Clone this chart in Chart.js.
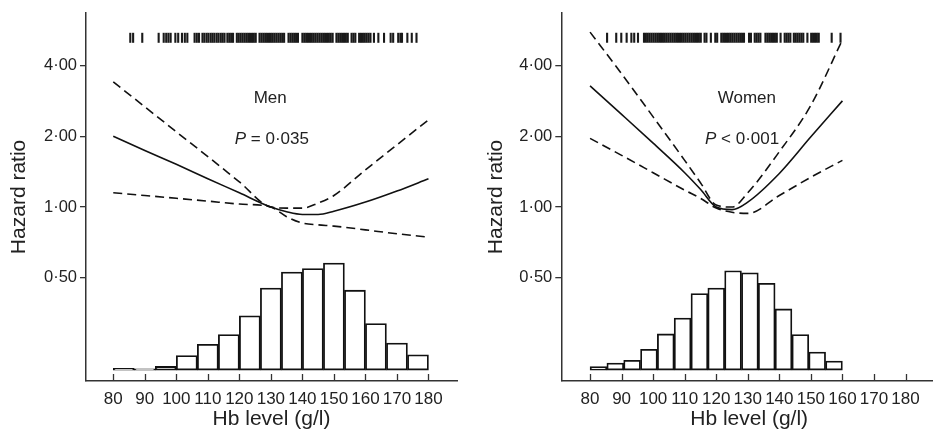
<!DOCTYPE html>
<html>
<head>
<meta charset="utf-8">
<script src="https://cdn.jsdelivr.net/npm/chart.js@4.4.0/dist/chart.umd.min.js"></script>
<style>
  html, body { margin: 0; padding: 0; background: #fff; overflow: hidden; width: 933px; height: 442px; }
  #men { position: absolute; left: 0; top: 0; }
  #women { position: absolute; left: 463px; top: 0; }
</style>
</head>
<body>
<canvas id="men" width="466" height="442"></canvas>
<canvas id="women" width="490" height="442"></canvas>
<script>
// axis ticks
const hrTicks = [0.5, 1, 2, 4];
const hbTicks = [80, 90, 100, 110, 120, 130, 140, 150, 160, 170, 180];

// Men: spline hazard ratio with 95% CI
const menHb    = [80, 90, 100, 110, 120, 130, 135, 140, 145, 150, 160, 170, 180];
const menHR    = [2.0, 1.74, 1.52, 1.32, 1.15, 1.0, 0.955, 0.93, 0.93, 0.96, 1.05, 1.17, 1.32];
const menUpper = [3.41, 2.67, 2.09, 1.64, 1.28, 1.0, 0.99, 0.99, 1.04, 1.12, 1.44, 1.84, 2.35];
const menLower = [1.15, 1.12, 1.09, 1.06, 1.03, 1.0, 0.91, 0.855, 0.84, 0.83, 0.80, 0.77, 0.745];
// Men: histogram of Hb (% of men), bin centres
const menBins = [83.33, 90, 96.67, 103.33, 110, 116.67, 123.33, 130, 136.67, 143.33, 150, 156.67, 163.33, 170, 176.67];
const menPct  = [0.24, 0.18, 0.53, 2.1, 3.7, 5.1, 7.8, 11.8, 14.1, 14.6, 15.4, 11.5, 6.7, 3.9, 2.2];
// Men: rug of observed Hb values
const menRug = [
  85.4, 86.3, 89.2, 94.4, 96.0, 96.8, 97.5, 98.2, 99.7, 100.6, 101.8, 102.7, 103.5, 105.8, 106.5, 107.2,
  108.3, 108.9, 109.6, 110.2, 110.9, 111.5, 112.1, 112.8, 113.4, 114.1, 114.7, 115.3, 116.2, 116.8, 117.4, 118.0,
  119.2, 119.8, 120.4, 121.0, 121.6, 122.2, 122.8, 123.4, 124.0, 124.6, 125.2, 126.4, 127.0, 127.6, 128.2, 128.8,
  129.4, 130.0, 130.6, 131.2, 131.8, 132.4, 133.0, 133.6, 134.2, 135.6, 136.2, 136.8, 137.4, 138.0, 138.6, 140.0,
  140.6, 141.2, 141.8, 142.4, 143.0, 143.6, 144.2, 144.8, 145.4, 146.0, 146.6, 147.2, 147.8, 148.4, 149.0, 149.6,
  150.8, 151.4, 152.0, 152.6, 153.2, 153.8, 154.4, 155.6, 156.2, 156.8, 158.0, 158.6, 159.2, 159.8, 160.4, 161.0,
  161.6, 162.7, 164.1, 165.9, 168.0, 168.8, 170.4, 171.1, 171.6, 173.3, 174.7, 176.2
];

// Women: spline hazard ratio with 95% CI
const womenHb    = [80, 90, 100, 110, 115, 120, 125, 130, 140, 150, 160];
const womenHR    = [3.28, 2.48, 1.87, 1.40, 1.19, 1.0, 0.975, 1.05, 1.39, 1.99, 2.83];
const womenUpper = [5.55, 3.69, 2.42, 1.58, 1.27, 1.02, 1.0, 1.15, 1.72, 2.71, 5.15];
const womenLower = [1.96, 1.66, 1.40, 1.18, 1.09, 0.99, 0.95, 0.94, 1.12, 1.34, 1.58];
// Women: histogram of Hb (% of women), bin centres
const womenBins = [82.67, 88, 93.33, 98.67, 104, 109.33, 114.67, 120, 125.33, 130.67, 136, 141.33, 146.67, 152, 157.33];
const womenPct  = [0.5, 1.0, 1.4, 3.0, 5.2, 7.5, 11.0, 11.8, 14.3, 14.0, 12.5, 8.8, 5.1, 2.6, 1.3];
// Women: rug of observed Hb values
const womenRug = [
  85.4, 88.3, 89.9, 91.6, 93.1, 94.0, 95.2,
  97.1, 97.7, 98.3, 98.9, 99.5, 100.1, 100.7, 101.3, 101.9, 102.5, 103.1, 103.7, 104.3, 104.9, 105.5, 106.1,
  106.7, 107.3, 107.9, 108.5, 109.1, 109.7, 110.3, 110.9, 111.5, 112.1, 112.7, 113.3, 113.9, 114.5, 115.1, 116.3,
  116.9, 118.3, 119.7, 120.3, 121.6, 122.2, 122.8, 123.4, 124.0, 124.6, 125.2, 125.8, 126.4, 127.0, 127.6, 128.2,
  128.8, 130.4, 131.0, 132.2, 132.8, 133.4, 134.0, 135.6, 136.2, 136.8, 137.4, 138.0, 138.6, 139.2, 140.4, 141.7,
  142.3, 142.9, 143.5, 144.6, 145.2, 145.8, 146.4, 147.0, 147.6, 148.9, 150.1, 150.7, 151.3, 151.9, 152.5,
  156.6, 159.4
];

const rugLevel = 5.25;
const FONT = '"Liberation Sans", Arial, sans-serif';
Chart.defaults.font.family = FONT;
Chart.defaults.color = '#222';

// inward x ticks + in-panel labels
const panelDecor = {
  id: 'panelDecor',
  afterDraw(chart, args, opts) {
    const { ctx, scales: { x, y } } = chart;
    ctx.save();
    ctx.strokeStyle = '#333';
    ctx.lineWidth = 1.3;
    x.ticks.forEach(t => {
      const px = Math.round(x.getPixelForValue(t.value)) + 0.5;
      ctx.beginPath();
      ctx.moveTo(px, y.bottom);
      ctx.lineTo(px, y.bottom - 7);
      ctx.stroke();
    });
    ctx.fillStyle = '#222';
    ctx.textBaseline = 'middle';
    ctx.textAlign = 'left';
    ctx.font = '17px ' + FONT;
    const gx = x.getPixelForValue(opts.groupAt[0]), gy = y.getPixelForValue(opts.groupAt[1]);
    ctx.fillText(opts.group, gx - ctx.measureText(opts.group).width / 2, gy);
    const rest = opts.pText;
    ctx.font = 'italic 17px ' + FONT;
    const wp = ctx.measureText('P').width;
    ctx.font = '17px ' + FONT;
    const wr = ctx.measureText(rest).width;
    const px = x.getPixelForValue(opts.pAt[0]) - (wp + wr) / 2, py = y.getPixelForValue(opts.pAt[1]);
    ctx.font = 'italic 17px ' + FONT;
    ctx.fillText('P', px, py);
    ctx.font = '17px ' + FONT;
    ctx.fillText(rest, px + wp, py);
    ctx.restore();
  }
};

function pts(xs, ys) { return xs.map((v, i) => ({ x: v, y: ys[i] })); }

function panel(id, p) {
  const lineBase = { type: 'line', pointRadius: 0, borderColor: '#111', borderWidth: 1.6, cubicInterpolationMode: 'monotone', yAxisID: 'y' };
  return new Chart(document.getElementById(id), {
    type: 'line',
    data: {
      datasets: [
        Object.assign({}, lineBase, { data: pts(p.hb, p.hr) }),
        Object.assign({}, lineBase, { data: pts(p.hb, p.upper), borderDash: [9, 5] }),
        Object.assign({}, lineBase, { data: pts(p.hb, p.lower), borderDash: [9, 5] }),
        {
          type: 'scatter', yAxisID: 'y',
          data: p.rug.map(v => ({ x: v, y: rugLevel })),
          pointStyle: 'line', pointRotation: 90, pointRadius: 5,
          pointBorderWidth: 2.1, pointBorderColor: '#1a1a1a'
        },
        {
          type: 'bar', yAxisID: 'yh',
          data: pts(p.bins, p.pct),
          backgroundColor: '#fff', borderColor: '#111', borderWidth: 1.8,
          borderSkipped: false, barPercentage: 1, categoryPercentage: 1
        }
      ]
    },
    options: {
      responsive: false,
      animation: false,
      events: [],
      layout: { padding: { left: 0, top: 10, right: p.padRight, bottom: 0 } },
      plugins: {
        legend: { display: false },
        tooltip: { enabled: false },
        panelDecor: p.decor
      },
      scales: {
        x: {
          type: 'linear', min: p.xMin, max: p.xMax, bounds: 'data',
          afterBuildTicks: s => { s.ticks = hbTicks.map(v => ({ value: v })); },
          grid: { display: false, drawTicks: false },
          border: { color: '#333', width: 1.5 },
          ticks: { font: { size: 17 }, padding: 8, maxRotation: 0, autoSkip: false, callback: v => String(v) },
          title: { display: true, text: 'Hb level (g/l)', font: { size: 21 }, padding: { top: 0, bottom: 10 } },
          afterFit: s => { s.height = 61; }
        },
        y: {
          type: 'logarithmic', min: 0.182, max: 6.7, bounds: 'data',
          afterBuildTicks: s => { s.ticks = hrTicks.map(v => ({ value: v })); },
          grid: { drawOnChartArea: false, tickLength: 6, color: '#333', lineWidth: 1.3 },
          border: { color: '#333', width: 1.5 },
          ticks: { font: { size: 16.5 }, padding: 3, autoSkip: false, callback: v => Number(v).toFixed(2).replace('.', '\u00b7') },
          title: { display: true, text: 'Hazard ratio', font: { size: 21 }, padding: { top: p.titlePad, bottom: 0 } },
          afterFit: s => { s.width = p.yWidth; }
        },
        yh: { type: 'linear', display: false, min: -1.57, max: 51.4 }
      }
    },
    plugins: [panelDecor]
  });
}

panel('men', {
  hb: menHb, hr: menHR, upper: menUpper, lower: menLower,
  bins: menBins, pct: menPct, rug: menRug,
  xMin: 76.7, xMax: 183.7, yWidth: 86, padRight: 9, titlePad: 7,
  decor: { group: 'Men', groupAt: [129.8, 2.9], pText: ' = 0\u00b7035', pAt: [130.3, 1.95] }
});

panel('women', {
  hb: womenHb, hr: womenHR, upper: womenUpper, lower: womenLower,
  bins: womenBins, pct: womenPct, rug: womenRug,
  xMin: 76.3, xMax: 184.57, yWidth: 98.3, padRight: 16, titlePad: 21,
  decor: { group: 'Women', groupAt: [129.7, 2.9], pText: ' < 0\u00b7001', pAt: [128.2, 1.95] }
});
</script>
</body>
</html>
